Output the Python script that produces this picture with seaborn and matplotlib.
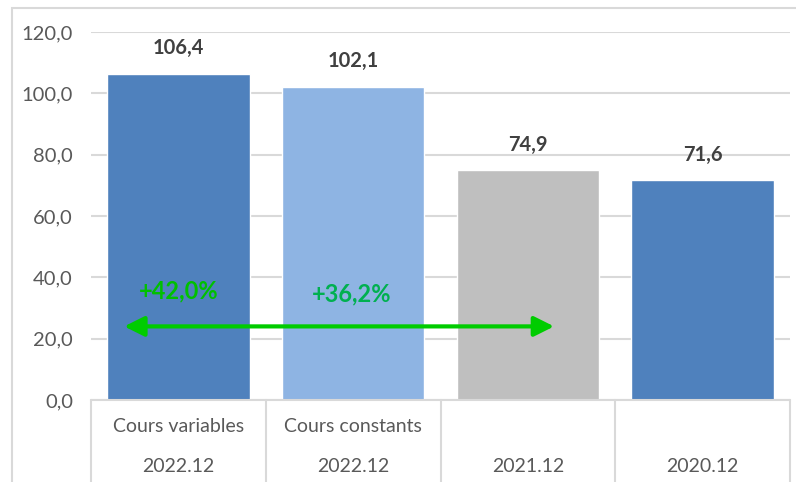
import matplotlib
matplotlib.use("Agg")
import matplotlib.pyplot as plt
import matplotlib.transforms as mtransforms
from matplotlib.patches import Rectangle
import seaborn as sns
import pandas as pd

# ---- data ----
row1_labels = ["Cours variables", "Cours constants", "", ""]
row2_labels = ["2022.12", "2022.12", "2021.12", "2020.12"]
values = [106.4, 102.1, 74.9, 71.6]
bar_colors = ["#4F81BD", "#8EB4E3", "#BFBFBF", "#4F81BD"]
value_labels = ["106,4", "102,1", "74,9", "71,6"]
yticks = [0, 20, 40, 60, 80, 100, 120]
ytick_labels = ["0,0", "20,0", "40,0", "60,0", "80,0", "100,0", "120,0"]
growth_labels = ["+42,0%", "+36,2%"]
growth_colors = ["#00C000", "#00B050"]
growth_x = [0.0, 0.99]
growth_y = [35.5, 34.6]
arrow_y = 24.0
arrow_x = [-0.31, 2.15]

cats = [f"c{i}" for i in range(len(values))]
df = pd.DataFrame({"cat": cats, "val": values})

sns.set_theme(style="white")
plt.rcParams["font.family"] = ["Lato", "DejaVu Sans"]

W, H = 796, 482
fig = plt.figure(figsize=(W / 100, H / 100), dpi=100)
ax = fig.add_axes([91 / W, 82 / H, (790 - 91) / W, (400 - 32) / H])

# outer frame
fig.patches.append(Rectangle((12 / W, -0.1), 1.1, (482 - 8) / H + 0.1,
                             transform=fig.transFigure, fill=False,
                             edgecolor="#D9D9D9", lw=1.5))

sns.barplot(data=df, x="cat", y="val", hue="cat", palette=bar_colors,
            legend=False, width=0.815, ax=ax, saturation=1, zorder=3)

ax.set_xlim(-0.5, 3.5)
ax.set_ylim(0, 120)
ax.set_yticks(yticks)
ax.set_yticklabels(ytick_labels, fontsize=14.5, color="#595959")
ax.tick_params(axis="y", length=0, pad=13)
ax.set_xticks([])
ax.set_xlabel("")
ax.set_ylabel("")
for s in ax.spines.values():
    s.set_visible(False)
ax.yaxis.grid(True, color="#D9D9D9", lw=1.5, zorder=0)
ax.set_axisbelow(True)

# value labels
for i, (v, lab) in enumerate(zip(values, value_labels)):
    ax.annotate(lab, (i, v), xytext=(0, 18.5), textcoords="offset points",
                ha="center", va="center", fontsize=14.5, fontweight="bold",
                color="#404040")

# category table
trans = mtransforms.blended_transform_factory(ax.transData, ax.transAxes)
axh = 368
for i in range(len(values)):
    ax.text(i, -27 / axh, row1_labels[i], transform=trans, ha="center",
            va="center", fontsize=14, color="#595959", clip_on=False)
    ax.text(i, -66 / axh, row2_labels[i], transform=trans, ha="center",
            va="center", fontsize=14, color="#595959", clip_on=False)
for xb in [-0.5, 0.5, 1.5, 2.5, 3.5]:
    ax.plot([xb, xb], [0, -90 / axh], transform=trans, color="#D9D9D9",
            lw=1.5, clip_on=False, zorder=5)
ax.plot([-0.5, 3.5], [0, 0], transform=trans, color="#D9D9D9", lw=1.5,
        clip_on=False, zorder=5)

# growth annotations
ax.annotate("", xy=(arrow_x[1], arrow_y), xytext=(arrow_x[0], arrow_y),
            arrowprops=dict(arrowstyle="<|-|>,head_length=1.0,head_width=0.5",
                            color="#00CC00", lw=3, shrinkA=0, shrinkB=0),
            zorder=6)
for gx, gy, gl, gc in zip(growth_x, growth_y, growth_labels, growth_colors):
    ax.text(gx, gy, gl, ha="center", va="center", fontsize=17,
            fontweight="bold", color=gc, zorder=6)

fig.savefig("out.png", dpi=100)
